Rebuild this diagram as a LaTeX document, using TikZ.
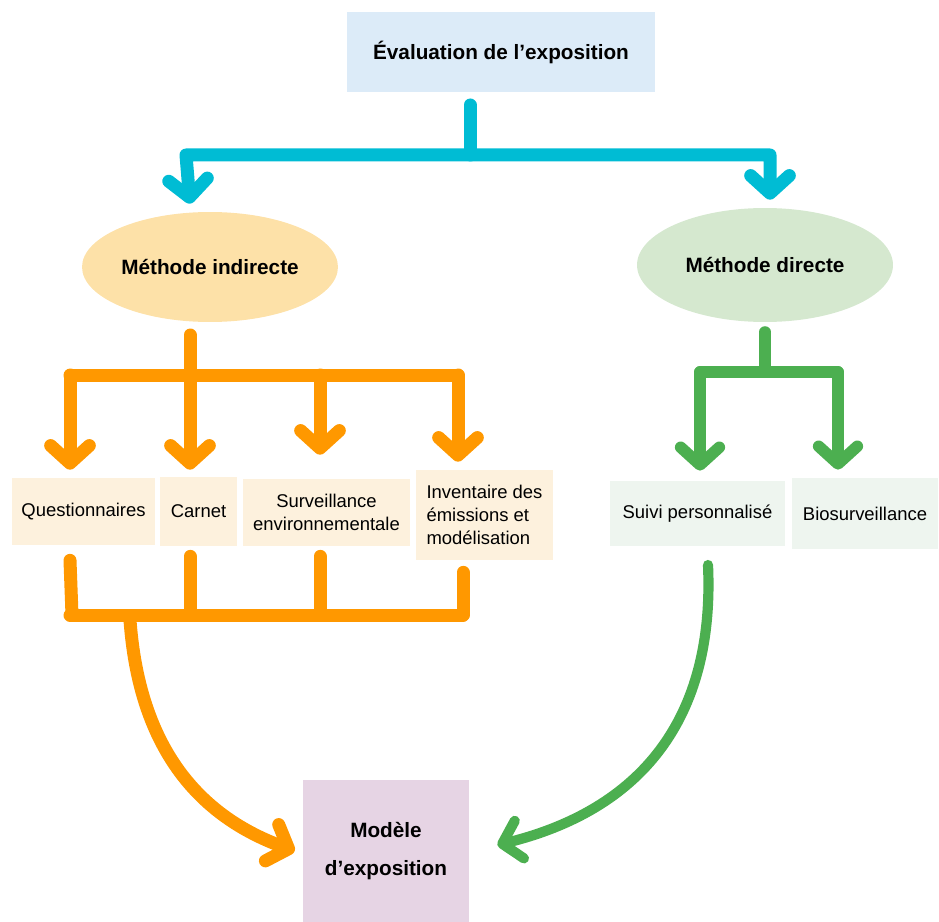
\documentclass[tikz,border=0pt]{standalone}
\usepackage{fontspec}
\setmainfont{Liberation Sans}
\usetikzlibrary{arrows.meta,shapes.geometric,calc}

\definecolor{cyanfl}{HTML}{00BCD4}
\definecolor{orangefl}{HTML}{FF9800}
\definecolor{vertfl}{HTML}{4CAF50}
\definecolor{bleuclair}{HTML}{DCEBF8}
\definecolor{orangeclair}{HTML}{FDE1A8}
\definecolor{vertclair}{HTML}{D5E8CF}
\definecolor{beige}{HTML}{FDF1DD}
\definecolor{vertpale}{HTML}{EEF5EF}
\definecolor{mauve}{HTML}{E6D4E4}

\tikzset{
  titre/.style={font=\fontsize{11.8}{14}\selectfont\bfseries},
  texte/.style={font=\fontsize{10.5}{13}\selectfont},
  boite/.style={rectangle, inner sep=0pt, align=center},
  methode/.style={ellipse, inner sep=0pt, titre},
  trait/.style={line width=#1, line cap=round, line join=round},
  pointe/.style={-{Straight Barb[length=10pt,width=22pt,round]}},
  deuxpointes/.style={{Straight Barb[length=10pt,width=22pt,round]}-{Straight Barb[length=10pt,width=22pt,round]}},
}

\begin{document}
\begin{tikzpicture}[x=0.02cm, y=-0.02cm]
    \useasboundingbox (0,0) rectangle (939,922);

    % Boites principales
    \node[boite, titre, fill=bleuclair, minimum width=6.16cm, minimum height=1.6cm] (eval) at (501,52) {Évaluation de l’exposition};
    \node[methode, fill=orangeclair, minimum width=5.12cm, minimum height=2.2cm] (indir) at (210,267) {Méthode indirecte};
    \node[methode, fill=vertclair, minimum width=5.12cm, minimum height=2.28cm] (dir) at (765,265) {Méthode directe};

    % Outils de la methode indirecte
    \node[boite, texte, fill=beige, minimum width=2.86cm, minimum height=1.34cm] (quest) at (83.5,511.5) {Questionnaires};
    \node[boite, texte, fill=beige, minimum width=1.54cm, minimum height=1.38cm] (carnet) at (198.5,511.5) {Carnet};
    \node[boite, texte, fill=beige, minimum width=3.34cm, minimum height=1.34cm] (surv) at (326.5,512.5) {Surveillance\\environnementale};
    \node[boite, texte, fill=beige, minimum width=2.74cm, minimum height=1.8cm, align=left] (inv) at (484.5,515) {Inventaire des\\émissions et\\modélisation};

    % Outils de la methode directe
    \node[boite, texte, fill=vertpale, minimum width=3.5cm, minimum height=1.3cm] (suivi) at (697.5,513.5) {Suivi personnalisé};
    \node[boite, texte, fill=vertpale, minimum width=2.92cm, minimum height=1.42cm] (bio) at (865,513.5) {Biosurveillance};

    % Resultat
    \node[boite, titre, fill=mauve, minimum width=3.32cm, minimum height=2.84cm, font=\fontsize{11.8}{22}\selectfont\bfseries] (modele) at (386,851) {Modèle\\d’exposition};

    % Points de jonction
    \coordinate (evalbas) at (470,105);
    \coordinate (cnoeud) at (470,155);
    \coordinate (cgauche) at (186,155);
    \coordinate (cdroite) at (770,155);
    \coordinate (indirbas) at (190,335);
    \coordinate (onoeud) at (190,375);
    \coordinate (odeb) at (70,375);
    \coordinate (ofin) at (458,375);
    \coordinate (dirbas) at (765,332);
    \coordinate (vnoeud) at (765,372);
    \coordinate (vdeb) at (700,372);
    \coordinate (vfin) at (838,372);
    \coordinate (bdeb) at (70,615);
    \coordinate (bfin) at (463,615);
    \coordinate (bdepart) at (130,620);
    \coordinate (suivibas) at (708,565);

    % Fleches cyan
    \draw[trait=7.4pt, cyanfl] (evalbas) -- (cnoeud);
    \draw[trait=7.4pt, cyanfl, deuxpointes]
        ($(indir.north)+(-20,-8)$) -- (cgauche) -- (cdroite) -- ($(dir.north)+(5,-8)$);

    % Fleches orange du haut
    \draw[trait=7.4pt, orangefl] (indirbas) -- (onoeud);
    \draw[trait=7.4pt, orangefl] (odeb) -- (ofin);
    \draw[trait=7.4pt, orangefl, pointe] (odeb) -- ($(quest.north -| odeb)+(0,-8)$);
    \draw[trait=7.4pt, orangefl, pointe] (onoeud) -- ($(carnet.north -| onoeud)+(0,-7)$);
    \draw[trait=7.4pt, orangefl, pointe] (320,375) -- ($(surv.north -| 320,0)+(0,-24)$);
    \draw[trait=7.4pt, orangefl, pointe] (ofin) -- ($(inv.north -| ofin)+(0,-8)$);

    % Jonction orange du bas
    \draw[trait=7.4pt, orangefl] (bdeb) -- (bfin);
    \draw[trait=7.4pt, orangefl] ($(quest.south -| bdeb)+(0,15)$) -- (72,615);
    \draw[trait=7.4pt, orangefl] ($(carnet.south -| onoeud)+(0,10)$) -- (190,615);
    \draw[trait=7.4pt, orangefl] ($(surv.south -| 320,0)+(0,10)$) -- (320,615);
    \draw[trait=7.4pt, orangefl] ($(inv.south -| bfin)+(0,12)$) -- (bfin);
    \draw[trait=7.4pt, orangefl, pointe] (bdepart) .. controls (140,760) and (210,820) .. ($(modele.west)+(-8,0)$);

    % Fleches vertes
    \draw[trait=6.6pt, vertfl] (dirbas) -- (vnoeud);
    \draw[trait=6.6pt, vertfl] (vdeb) -- (vfin);
    \draw[trait=6.6pt, vertfl, pointe] (vdeb) -- ($(suivi.north -| vdeb)+(0,-10)$);
    \draw[trait=6.6pt, vertfl, pointe] (vfin) -- ($(bio.north -| vfin)+(0,-8)$);
    \draw[trait=5.8pt, vertfl, pointe] (suivibas) .. controls (715,720) and (640,810) .. ($(modele.east)+(28,-6)$);
\end{tikzpicture}
\end{document}
